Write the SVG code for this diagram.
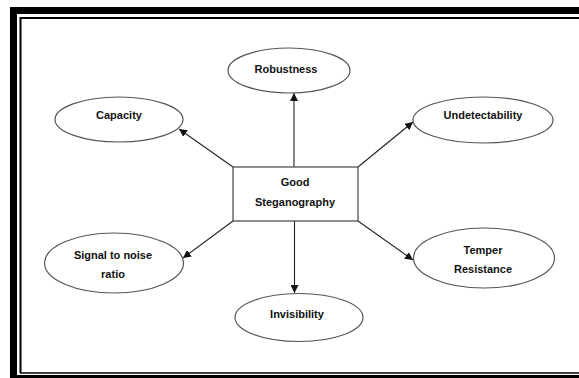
<svg xmlns="http://www.w3.org/2000/svg" width="579" height="378" viewBox="0 0 579 378">
<style>
.node ellipse{fill:#fff;stroke:#555;stroke-width:1.2}
.node rect{fill:#fff;stroke:#444;stroke-width:1.2}
.node text{font-family:"Liberation Sans",Arial,sans-serif;font-weight:bold;font-size:11px;fill:#111;text-anchor:middle}
.conn line{stroke:#222;stroke-width:1.1;marker-end:url(#ah)}
</style>
<defs>
<marker id="ah" viewBox="0 0 10 10" refX="10" refY="5" markerWidth="8" markerHeight="8" markerUnits="userSpaceOnUse" orient="auto">
<path d="M0,0 L10,5 L0,10 z" fill="#111"/>
</marker>
</defs>
<rect width="579" height="378" fill="#fff"/>
<g id="frame">
<path d="M10,7 H579 V14 H17 V375 H579 V378 H10 Z" fill="#000"/>
<path d="M20.5,373 V18 H579" fill="none" stroke="#000" stroke-width="2"/>
<line x1="20" y1="373" x2="579" y2="373" stroke="#000" stroke-width="1.6"/>
</g>
<g class="conn" id="connectors">
<line x1="294" y1="167" x2="294" y2="93"/>
<line x1="233" y1="167" x2="179" y2="129"/>
<line x1="358" y1="167" x2="413" y2="122"/>
<line x1="233" y1="221" x2="183" y2="258"/>
<line x1="294.5" y1="221" x2="294.5" y2="293"/>
<line x1="358" y1="221" x2="413" y2="260"/>
</g>
<g class="node" id="n-good">
<rect x="233" y="167" width="125" height="54"/>
<text x="295" y="186">Good</text>
<text x="295" y="206">Steganography</text>
</g>
<g class="node" id="n-robust">
<ellipse cx="289" cy="70.5" rx="61" ry="22.5"/>
<text x="286" y="73">Robustness</text>
</g>
<g class="node" id="n-capacity">
<ellipse cx="119" cy="119.5" rx="64" ry="22.5"/>
<text x="119" y="119">Capacity</text>
</g>
<g class="node" id="n-undetect">
<ellipse cx="483" cy="120" rx="70" ry="23"/>
<text x="483" y="119">Undetectability</text>
</g>
<g class="node" id="n-signal">
<ellipse cx="114" cy="263" rx="69.5" ry="30"/>
<text x="113" y="259">Signal to noise</text>
<text x="113" y="278">ratio</text>
</g>
<g class="node" id="n-invis">
<ellipse cx="299" cy="317.5" rx="64" ry="24"/>
<text x="297" y="318">Invisibility</text>
</g>
<g class="node" id="n-temper">
<ellipse cx="484" cy="258" rx="70.5" ry="30"/>
<text x="483" y="254">Temper</text>
<text x="483" y="273">Resistance</text>
</g>
</svg>
